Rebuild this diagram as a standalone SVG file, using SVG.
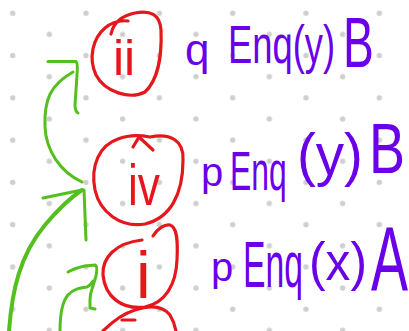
<svg xmlns="http://www.w3.org/2000/svg" width="409" height="331" viewBox="0 0 409 331">
<defs>
<pattern id="dots" patternUnits="userSpaceOnUse" x="0" y="0" width="73.333" height="42.28">
<circle cx="12.7" cy="13.3" r="2.7" fill="#cfcfcf"/>
<circle cx="49.3" cy="34.44" r="2.7" fill="#cfcfcf"/>
</pattern>
<style>
.red{fill:none;stroke:#e5171d;stroke-width:3.2;stroke-linecap:round;stroke-linejoin:round}
.grn{fill:none;stroke:#55bf1f;stroke-width:3;stroke-linecap:round;stroke-linejoin:round}
.lbl{font-family:"Liberation Sans",Arial,sans-serif;fill:#e5171d}
.txt{font-family:"Liberation Sans",Arial,sans-serif;fill:#6a00e8}
</style>
</defs>
<rect width="409" height="331" fill="#ffffff"/>
<rect width="409" height="331" fill="url(#dots)"/>

<g id="connectors">
<g id="arrow-iv-ii">
<path class="grn" d="M82,182 C60,172 46,150 45,127 C44,100 50,85 73,72"/>
<path class="grn" d="M48,61.5 L76,61.5 Q78,63 77,75 L75,105 Q75,111 78,113"/>
</g>
<g id="arrow-to-iv">
<path class="grn" style="stroke-width:4" d="M9,331 C12,290 20,255 45,225 C60,207 70,198 82,190"/>
<path class="grn" d="M43,198 L82,190 M84,190 L86,240"/>
</g>
<g id="arrow-to-i">
<path class="grn" d="M60,331 C60,318 62,302 68,295 C73,289 80,288 87,287 Q91,285 93,281"/>
<path class="grn" d="M68,272 Q75,268 85,266 L95,265 Q98,266 96,276 L92,289 Q90,294 90,300 L90,308 L95,309"/>
</g>
</g>

<g id="node-ii">
<path class="red" d="M111,34 C113,25 120,16 135,13 C150,10 160,14 161,30 C162,55 158,80 145,92 C130,100 105,92 96,75 C88,58 93,38 105,28 C112,22 120,20 128,21"/>
<text class="lbl" x="113" y="75" font-size="50">ii</text>
<text class="txt" x="185" y="65" font-size="44">q</text>
<text class="txt" transform="translate(228,63) scale(0.673,1)" font-size="54">Enq(y)</text>
<text class="txt" transform="translate(343,67) scale(0.66,1)" font-size="70">B</text>
</g>

<g id="node-iv">
<path class="red" d="M150,137 C170,133 184,140 183,160 C183,195 170,218 145,224 C120,228 100,212 95,190 C90,165 100,145 118,139 C128,135 140,135 150,137"/>
<path class="red" d="M133,147 L139,137 L153,150"/>
<text class="lbl" transform="translate(128,205) scale(0.764,1)" font-size="58">iv</text>
<text class="txt" x="201" y="186" font-size="40">p</text>
<text class="txt" transform="translate(230,190) scale(0.57,1)" font-size="56">Enq</text>
<text class="txt" transform="translate(297,175) scale(0.943,1)" font-size="60">(y)</text>
<text class="txt" transform="translate(369,173) scale(0.771,1)" font-size="70">B</text>
</g>

<g id="node-i">
<path class="red" d="M153,236 C158,228 165,224 170,225 C177,227 178,240 177,260 C176,285 165,303 145,307 C122,310 105,297 103,275 C102,258 115,243 142,240"/>
<text class="lbl" x="136" y="298" font-size="66">i</text>
<text class="txt" x="211" y="281" font-size="40">p</text>
<text class="txt" transform="translate(243,287) scale(0.527,1)" font-size="64">Enq</text>
<text class="txt" transform="translate(309,280) scale(0.92,1)" font-size="54">(x)</text>
<text class="txt" transform="translate(371,290) scale(0.617,1)" font-size="90">A</text>
</g>

<g id="node-partial">
<path class="red" d="M103,331 C112,322 122,314 135,310 C150,305 163,306 170,315 C173,320 175,326 176,331"/>
<path class="red" d="M122,320 L135,320"/>
</g>
</svg>
